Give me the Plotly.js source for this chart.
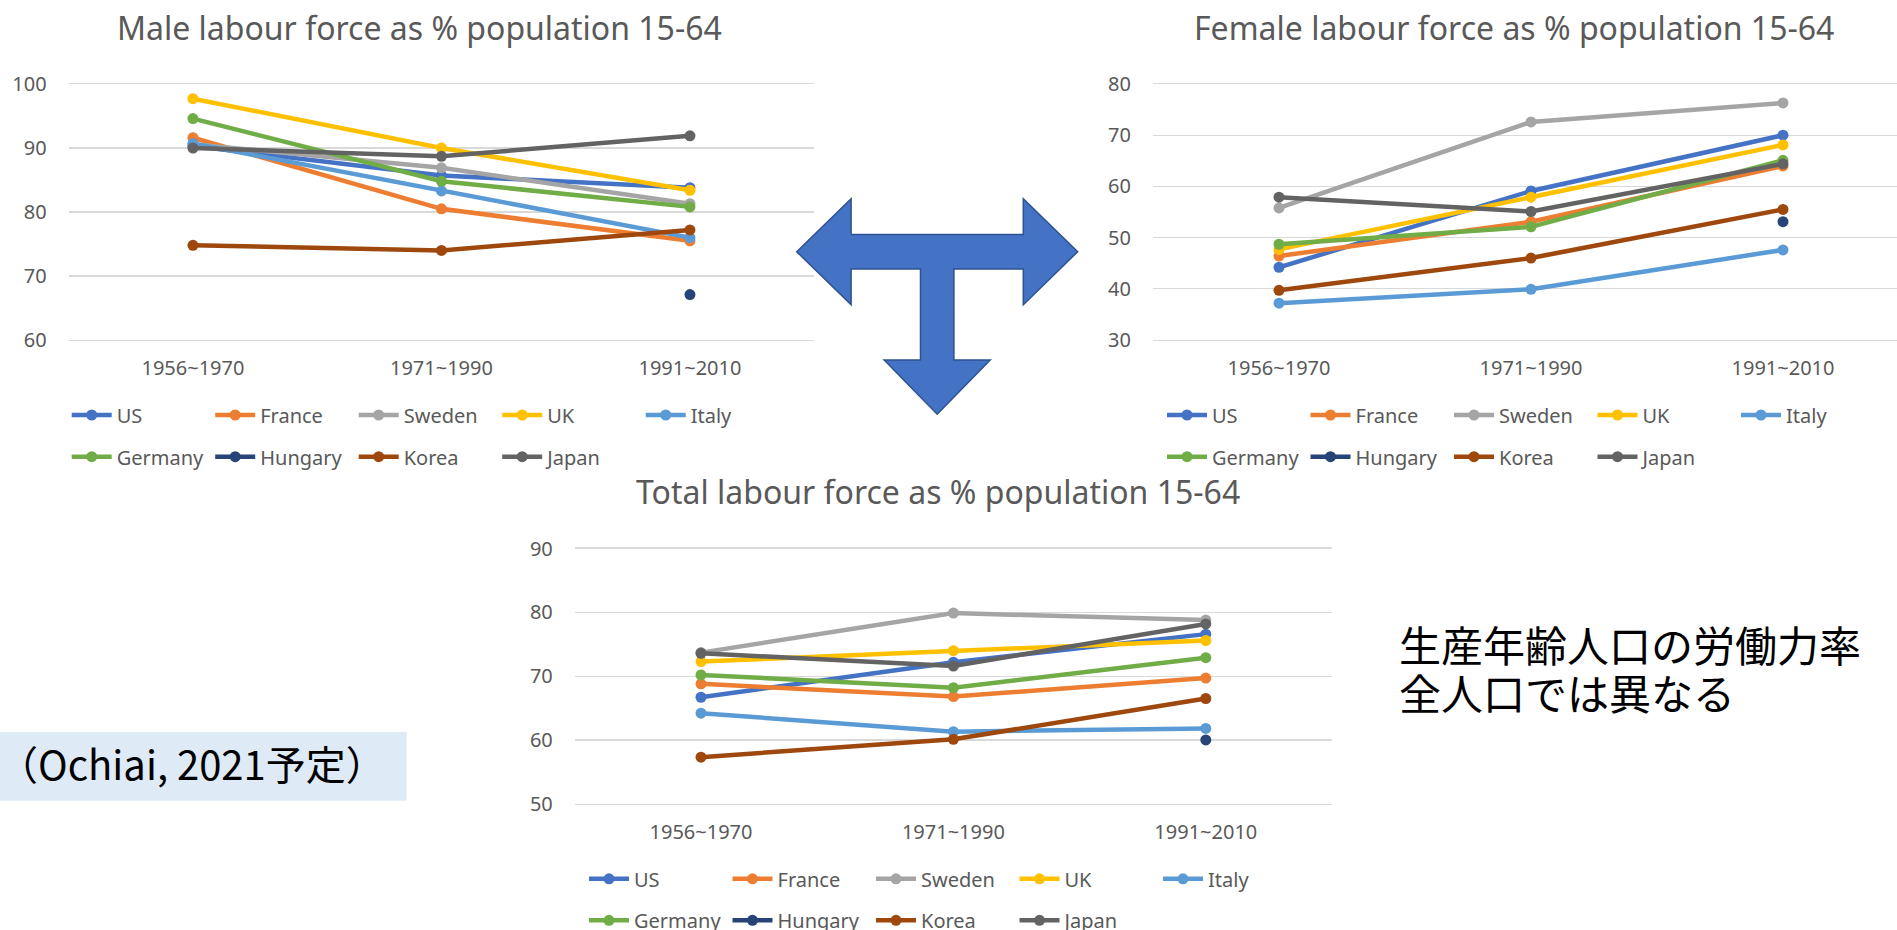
<!DOCTYPE html>
<html>
<head>
<meta charset="utf-8">
<script src="https://cdn.plot.ly/plotly-3.0.1.min.js"></script>
<style>
html,body{margin:0;padding:0;background:#ffffff;}
#chart{width:1897px;height:930px;}
</style>
</head>
<body>
<div id="chart"></div>
<script>
// ---------------- data ----------------
const periods = ['1956~1970', '1971~1990', '1991~2010'];
const countries = ['US', 'France', 'Sweden', 'UK', 'Italy', 'Germany', 'Hungary', 'Korea', 'Japan'];
const colors = ['#4472C4', '#ED7D31', '#A5A5A5', '#FFC000', '#5B9BD5', '#70AD47', '#264478', '#9E480E', '#636363'];

const titleMale = 'Male labour force as % population 15-64';
const titleFemale = 'Female labour force as % population 15-64';
const titleTotal = 'Total labour force as % population 15-64';

// Male labour force (% of population 15-64), order = countries
const maleUS      = [90.3, 85.7, 83.8];
const maleFrance  = [91.6, 80.5, 75.5];
const maleSweden  = [90.6, 86.9, 81.3];
const maleUK      = [97.7, 90.0, 83.4];
const maleItaly   = [90.7, 83.3, 76.0];
const maleGermany = [94.6, 84.8, 80.8];
const maleHungary = [null, null, 67.1];
const maleKorea   = [74.8, 74.0, 77.2];
const maleJapan   = [90.0, 88.7, 91.9];

// Female labour force
const femaleUS      = [44.2, 59.1, 70.0];
const femaleFrance  = [46.4, 53.1, 64.0];
const femaleSweden  = [55.8, 72.6, 76.3];
const femaleUK      = [47.7, 57.9, 68.1];
const femaleItaly   = [37.2, 39.9, 47.6];
const femaleGermany = [48.7, 52.1, 65.1];
const femaleHungary = [null, null, 53.1];
const femaleKorea   = [39.7, 46.0, 55.5];
const femaleJapan   = [57.9, 55.1, 64.4];

// Total labour force
const totalUS      = [66.7, 72.2, 76.6];
const totalFrance  = [68.8, 66.8, 69.7];
const totalSweden  = [73.7, 79.9, 78.8];
const totalUK      = [72.3, 74.0, 75.6];
const totalItaly   = [64.2, 61.3, 61.8];
const totalGermany = [70.2, 68.2, 72.9];
const totalHungary = [null, null, 60.0];
const totalKorea   = [57.3, 60.1, 66.5];
const totalJapan   = [73.6, 71.6, 78.2];

const maleSeries   = [maleUS, maleFrance, maleSweden, maleUK, maleItaly, maleGermany, maleHungary, maleKorea, maleJapan];
const femaleSeries = [femaleUS, femaleFrance, femaleSweden, femaleUK, femaleItaly, femaleGermany, femaleHungary, femaleKorea, femaleJapan];
const totalSeries  = [totalUS, totalFrance, totalSweden, totalUK, totalItaly, totalGermany, totalHungary, totalKorea, totalJapan];

const maleRange = [60, 100];
const femaleRange = [30, 80];
const totalRange = [50, 90];
const yTicks = 10;

const noteLine1 = '生産年齢人口の労働力率';
const noteLine2 = '全人口では異なる';
const citation = '（Ochiai, 2021予定）';

// ---------------- layout helpers ----------------
const W = 1897, H = 930;
const px = v => v / W;
const py = v => 1 - v / H;
const LATIN = '"Noto Sans", "Noto Sans CJK JP", sans-serif';
const CJK = '"Noto Sans CJK JP", "Noto Sans", sans-serif';
const TXT = '#595959';
const GRID = '#D9D9D9';

// pixel boxes for the three charts
const boxes = [
  {x0: 68.7, band: 248.5, top: 84, bot: 340, range: maleRange, series: maleSeries, title: titleMale, tx: 419, ty: 27, leg: [66.7, 415, 456.7]},
  {x0: 1153, band: 252, top: 84, bot: 340, range: femaleRange, series: femaleSeries, title: titleFemale, tx: 1514, ty: 27, leg: [1162, 415, 456.7]},
  {x0: 574.8, band: 252.4, top: 548.7, bot: 803.7, range: totalRange, series: totalSeries, title: titleTotal, tx: 937.6, ty: 491, leg: [584, 878.8, 920.3]}
];

const traces = [];
const layout = {
  width: W, height: H,
  margin: {l: 0, r: 0, t: 0, b: 0, autoexpand: false},
  paper_bgcolor: '#ffffff',
  plot_bgcolor: 'rgba(0,0,0,0)',
  showlegend: true,
  annotations: [],
  shapes: []
};

boxes.forEach((b, i) => {
  const n = i + 1;
  const xa = n === 1 ? 'x' : 'x' + n;
  const ya = n === 1 ? 'y' : 'y' + n;
  const xKey = n === 1 ? 'xaxis' : 'xaxis' + n;
  const yKey = n === 1 ? 'yaxis' : 'yaxis' + n;
  const x1 = Math.min(W, b.x0 + 3 * b.band);
  const rangeEnd = -0.5 + (x1 - b.x0) / b.band;
  layout[xKey] = {
    domain: [px(b.x0), px(x1)],
    range: [-0.5, rangeEnd],
    type: 'category',
    categoryorder: 'array', categoryarray: periods,
    anchor: ya,
    showgrid: false, zeroline: false,
    showline: true, mirror: true, linecolor: GRID, linewidth: 1.3,
    ticks: '', ticklabelstandoff: 10,
    tickfont: {family: LATIN, size: 20, color: TXT},
    automargin: false, fixedrange: true
  };
  layout[yKey] = {
    domain: [py(b.bot), py(b.top)],
    range: b.range,
    dtick: yTicks, tick0: 0,
    anchor: xa,
    showgrid: true, gridcolor: GRID, gridwidth: 1.3,
    zeroline: false, showline: false,
    ticks: '', ticklabelstandoff: 21,
    tickfont: {family: LATIN, size: 20, color: TXT},
    automargin: false, fixedrange: true
  };
  const legA = 'legend' + (2 * i + 1 === 1 ? '' : (2 * i + 1));
  const legB = 'legend' + (2 * i + 2);
  [legA, legB].forEach((lk, r) => {
    layout[lk] = {
      orientation: 'h',
      x: px(b.leg[0]), xanchor: 'left',
      y: py(b.leg[1 + r]), yanchor: 'middle',
      entrywidth: 88.5, entrywidthmode: 'pixels',
      itemwidth: 40,
      traceorder: 'normal',
      font: {family: LATIN, size: 20, color: TXT},
      bgcolor: 'rgba(0,0,0,0)', borderwidth: 0
    };
  });
  b.series.forEach((vals, j) => {
    traces.push({
      type: 'scatter', mode: 'lines+markers',
      name: countries[j],
      x: periods, y: vals,
      xaxis: xa, yaxis: ya,
      legend: j < 5 ? legA : legB,
      line: {color: colors[j], width: 4.5},
      marker: {color: colors[j], size: 11},
      connectgaps: false,
      cliponaxis: false,
      hoverinfo: 'skip'
    });
  });
  layout.annotations.push({
    xref: 'paper', yref: 'paper', x: px(b.tx), y: py(b.ty),
    xanchor: 'center', yanchor: 'middle', showarrow: false,
    text: b.title, font: {family: LATIN, size: 32, color: TXT}
  });
});

// Japanese notes
layout.annotations.push({
  xref: 'paper', yref: 'paper', x: px(1397), y: py(643.5),
  xanchor: 'left', yanchor: 'middle', showarrow: false,
  text: noteLine1, font: {family: CJK, size: 42, color: '#000000'}
});
layout.annotations.push({
  xref: 'paper', yref: 'paper', x: px(1397), y: py(691),
  xanchor: 'left', yanchor: 'middle', showarrow: false,
  text: noteLine2, font: {family: CJK, size: 42, color: '#000000'}
});

// citation box
layout.shapes.push({
  type: 'rect', xref: 'paper', yref: 'paper', layer: 'below',
  x0: px(0), x1: px(406.7), y0: py(800.7), y1: py(732),
  fillcolor: '#DEEBF7', line: {width: 0}
});
layout.annotations.push({
  xref: 'paper', yref: 'paper', x: px(-4), y: py(763),
  xanchor: 'left', yanchor: 'middle', showarrow: false,
  text: citation, font: {family: CJK, size: 40, color: '#000000'}
});

// T-shaped three-way arrow (decoration)
const cx = 937.2, cy = 251.7, barH = 17.3, headH = 53, headD = 54.4, tipL = 796.7, tipR = 1077.7;
const stemH = 16.7, stemEnd = 360, tipD = 414.3;
const pts = [
  [tipL, cy], [tipL + headD, cy - headH], [tipL + headD, cy - barH],
  [tipR - headD, cy - barH], [tipR - headD, cy - headH], [tipR, cy],
  [tipR - headD, cy + headH], [tipR - headD, cy + barH],
  [cx + stemH, cy + barH], [cx + stemH, stemEnd], [cx + headH, stemEnd], [cx, tipD],
  [cx - headH, stemEnd], [cx - stemH, stemEnd], [cx - stemH, cy + barH],
  [tipL + headD, cy + barH], [tipL + headD, cy + headH]
];
const pathStr = pts.map((p, k) => (k === 0 ? 'M' : 'L') + px(p[0]).toFixed(6) + ',' + py(p[1]).toFixed(6)).join(' ') + ' Z';
layout.shapes.push({
  type: 'path', xref: 'paper', yref: 'paper', layer: 'above',
  path: pathStr, fillcolor: '#4472C4', line: {color: '#2F528F', width: 1.5}
});

Plotly.newPlot('chart', traces, layout, {staticPlot: true, displayModeBar: false});
</script>
</body>
</html>
